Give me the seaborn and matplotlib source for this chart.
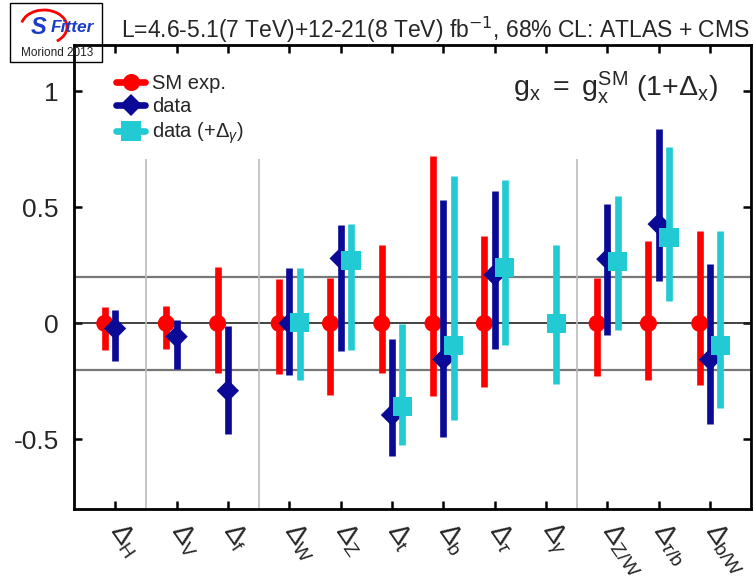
import numpy as np
import pandas as pd
import matplotlib
matplotlib.use('Agg')
import matplotlib.pyplot as plt
import seaborn as sns
from matplotlib.lines import Line2D
from matplotlib.patches import Rectangle, Arc

nan = np.nan

# categories (couplings) and the block each one belongs to
labels = [r'$\Delta_\mathrm{H}$', r'$\Delta_\mathrm{V}$', r'$\Delta_\mathrm{f}$',
          r'$\Delta_\mathrm{W}$', r'$\Delta_\mathrm{Z}$', r'$\Delta_\mathrm{t}$',
          r'$\Delta_\mathrm{b}$', r'$\Delta_\tau$', r'$\Delta_\gamma$',
          r'$\Delta_\mathrm{Z/W}$', r'$\Delta_{\tau/\mathrm{b}}$', r'$\Delta_\mathrm{b/W}$']
groups = [0, 1, 1, 2, 2, 2, 2, 2, 2, 3, 3, 3]

# SM expectation
sm_val = [0, 0, 0, 0, 0, 0, 0, 0, nan, 0, 0, 0]
sm_hi = [0.07, 0.075, 0.245, 0.19, 0.195, 0.34, 0.72, 0.375, nan, 0.195, 0.355, 0.40]
sm_lo = [-0.115, -0.11, -0.215, -0.22, -0.31, -0.215, -0.315, -0.275, nan, -0.225, -0.245, -0.265]

# data
dat_val = [-0.022, -0.057, -0.29, 0.0, 0.28, -0.395, -0.155, 0.21, nan, 0.277, 0.428, -0.156]
dat_hi = [0.058, 0.014, -0.012, 0.24, 0.425, -0.068, 0.53, 0.57, nan, 0.515, 0.84, 0.255]
dat_lo = [-0.162, -0.195, -0.478, -0.224, -0.12, -0.573, -0.49, -0.112, nan, -0.052, 0.184, -0.433]

# data with free Delta_gamma
gam_val = [nan, nan, nan, 0.003, 0.27, -0.36, -0.094, 0.242, 0.0, 0.268, 0.369, -0.095]
gam_hi = [nan, nan, nan, 0.238, 0.43, -0.003, 0.635, 0.62, 0.34, 0.548, 0.76, 0.397]
gam_lo = [nan, nan, nan, -0.245, -0.113, -0.523, -0.416, -0.093, -0.263, -0.029, 0.098, -0.364]

sns.set_theme(style='ticks')
plt.rcParams['font.family'] = ['Liberation Sans', 'DejaVu Sans']
plt.rcParams['mathtext.fontset'] = 'custom'
plt.rcParams['mathtext.rm'] = 'Liberation Sans'
plt.rcParams['mathtext.it'] = 'Liberation Sans:italic'
plt.rcParams['mathtext.bf'] = 'Liberation Sans:bold'
plt.rcParams['axes.unicode_minus'] = False

pos = np.array([1 + i + 0.2 * g for i, g in enumerate(groups)])

series = [
    ('SM exp.', sm_val, sm_lo, sm_hi, '#ff0000', 'o', 150, -0.2),
    ('data', dat_val, dat_lo, dat_hi, '#0a0a96', 'D', 130, 0.0),
    (r'data (+$\Delta_\gamma$)', gam_val, gam_lo, gam_hi, '#22cbd3', 's', 190, 0.2),
]

frames = []
for name, v, lo, hi, col, mk, s, off in series:
    frames.append(pd.DataFrame({'series': name, 'x': pos + off, 'val': v, 'lo': lo, 'hi': hi}))
df = pd.concat(frames, ignore_index=True)

fig = plt.figure(figsize=(7.54, 5.8), dpi=100)
ax = fig.add_axes([74 / 754, 1 - 509 / 580, 677 / 754, 464 / 580])

# reference lines
ax.axhline(0, color='#222222', lw=1.2, zorder=1)
ax.axhline(0.2, color='#777777', lw=1.6, zorder=1)
ax.axhline(-0.2, color='#777777', lw=1.6, zorder=1)
ax.vlines([1.6, 3.8, 10.0], -0.8, 0.707, color='#bbbbbb', lw=1.2, zorder=1)

handles = []
for k, (name, v, lo, hi, col, mk, s, off) in enumerate(series):
    sub = df[df['series'] == name].dropna()
    ax.vlines(sub['x'], sub['lo'], sub['hi'], color=col, lw=4.8, zorder=3 + 2 * k)
    sns.scatterplot(data=sub, x='x', y='val', marker=mk, s=s, color=col,
                    edgecolor='none', linewidth=0, ax=ax, zorder=4 + 2 * k, legend=False)
    handles.append(Line2D([], [], color=col, lw=4.8, marker=mk,
                          markersize=np.sqrt(s), markeredgewidth=0, label=name))

ax.set_xlim(0.2, 13.4)
ax.set_ylim(-0.8, 1.2)
ax.set_xlabel('')
ax.set_ylabel('')
ax.set_yticks([-0.5, 0, 0.5, 1])
ax.set_yticklabels(['-0.5', '0', '0.5', '1'], fontsize=19)
ax.set_xticks(pos)
ax.set_xticklabels(labels, fontsize=20, rotation=-55, ha='left', va='center',
                   rotation_mode='anchor')
ax.tick_params(direction='in', length=6, width=1.8, top=True, right=True, color='black')
ax.tick_params(axis='x', pad=12)
ax.tick_params(axis='y', pad=11)
for sp in ax.spines.values():
    sp.set_linewidth(2.0)
    sp.set_color('black')

ax.legend(handles=handles, loc='upper left', bbox_to_anchor=(0.05, 0.955),
          frameon=False, fontsize=14.5, handlelength=1.45, handletextpad=0.35,
          labelspacing=0.22, borderaxespad=0)

ax.text(0.951, 0.89, r'$\mathrm{g_x\ =\ g_x^{SM}\ (1{+}\Delta_x)}$', transform=ax.transAxes,
        ha='right', va='baseline', fontsize=20.5)

fig.text(0.995, 1 - 30 / 580, r'L=4.6-5.1(7 TeV)+12-21(8 TeV) fb$^{\mathsf{-1}}$, 68% CL: ATLAS + CMS',
         ha='right', va='center', fontsize=16.5)

# SFitter logo box
fig.patches.append(Rectangle((10 / 754, 1 - 62 / 580), 92 / 754, 59 / 580,
                             transform=fig.transFigure, fill=False, lw=1.0, ec='black'))
fig.patches.append(Arc((44 / 754, 1 - 27 / 580), 46 / 754, 34 / 580, theta1=-55, theta2=165,
                       transform=fig.transFigure, color='#ff0000', lw=2.0))
fig.text(39 / 754, 1 - 28 / 580, 'S', ha='center', va='center', fontsize=17,
         color='#1a3cc8', fontweight='bold', fontstyle='italic')
fig.text(72 / 754, 1 - 27 / 580, 'Fitter', ha='center', va='center', fontsize=12.5,
         color='#1a3cc8', fontweight='bold', fontstyle='italic')
fig.text(57 / 754, 1 - 53 / 580, 'Moriond 2013', ha='center', va='center', fontsize=8.5,
         color='#222222')

fig.savefig('out.png', dpi=100)
